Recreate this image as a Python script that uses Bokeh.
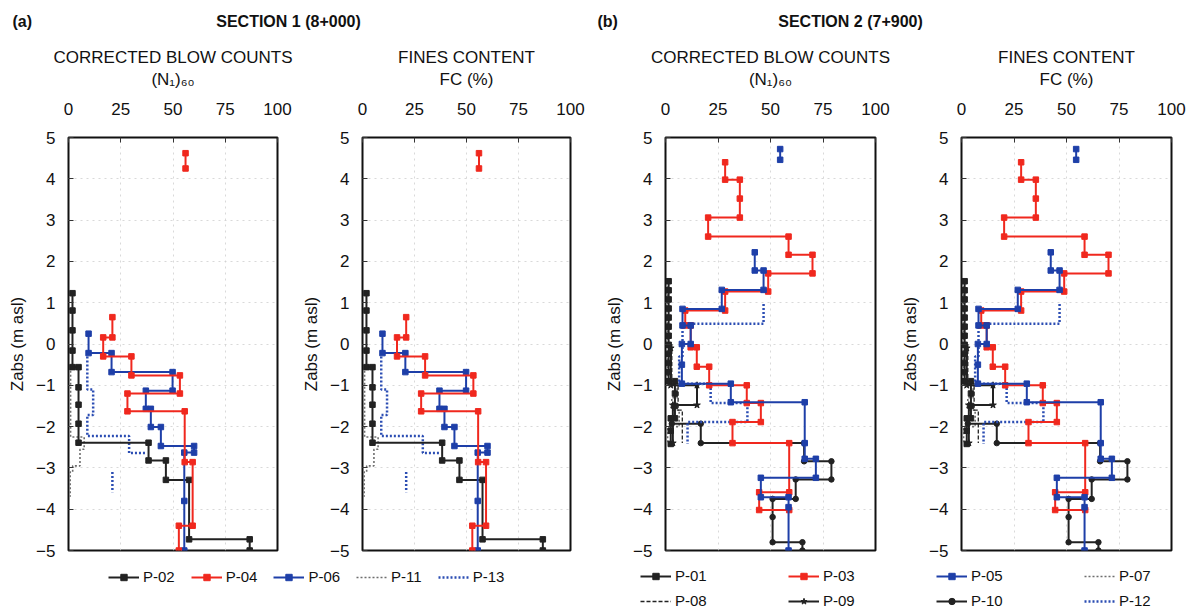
import numpy as np
from bokeh.plotting import figure
from bokeh.models import (Range1d, Label, Title, Legend, LegendItem, FixedTicker,
                          ColumnDataSource)
from bokeh.layouts import column, row
from bokeh.embed import file_html
from bokeh.resources import INLINE

nan = float("nan")
FONT = "Liberation Sans"

# ---------------- DATA ----------------
x_ticks = [0, 25, 50, 75, 100]
z_ticks = [-5, -4, -3, -2, -1, 0, 1, 2, 3, 4, 5]

# Section 1 (8+000)
s1_p02_x = [1.9, 1.9, 1.9, 1.9, 1.9, 4.8, 4.8, 4.8, 4.8, 4.8, 38.3, 38.3, 46.6, 46.6, 57.7, 57.7, 86.7, 86.7]
s1_p02_z = [1.23, 0.81, 0.33, -0.16, -0.56, -0.56, -1.05, -1.47, -1.93, -2.39, -2.39, -2.82, -2.82, -3.29, -3.29, -4.73, -4.73, -5.0]
s1_p04_x = [56, 56, nan, 21, 21, 16.6, 16.6, 30.1, 30.1, 53.3, 53.3, 28.2, 28.2, 55.6, 55.6, 59.4, 59.4, 52.8, 52.8]
s1_p04_z = [4.62, 4.25, nan, 0.65, 0.16, 0.16, -0.3, -0.3, -0.76, -0.76, -1.2, -1.2, -1.63, -1.63, -2.86, -2.86, -4.4, -4.4, -5.0]
s1_p06_x = [9.6, 9.6, 20.6, 20.6, 49.8, 49.8, 37.0, 37.0, 39.4, 39.4, 44.2, 44.2, 60.1, 60.1, 55.4, 55.4, 55.4]
s1_p06_z = [0.25, -0.22, -0.22, -0.68, -0.68, -1.13, -1.13, -1.57, -1.57, -2.01, -2.01, -2.47, -2.47, -2.63, -2.63, -3.8, -5.0]
s1_p11_x = [1.0, 1.0, 7.5, 7.5, 5.5, 5.5, 2.0, 2.0, 0.8, 0.8]
s1_p11_z = [-0.55, -2.25, -2.25, -2.55, -2.55, -2.95, -2.95, -3.1, -3.1, -3.7]
s1_p13_x = [9.0, 9.0, 11.8, 11.8, 9.0, 9.0, 29.0, 29.0, 37.0, nan, 21.0, 21.0]
s1_p13_z = [-0.3, -1.1, -1.1, -1.72, -1.72, -2.23, -2.23, -2.64, -2.64, nan, -3.1, -3.59]

# Section 2 (7+900)
s2_p01_x = [1.5, 1.5, 1.5, 1.5, 1.5, 1.5, 1.5, 1.5, 1.5, 1.5, 1.5, 1.5, 4.5, 4.5, 4.5, 4.5, 2.5, 2.5, 2.5]
s2_p01_z = [1.52, 1.3, 1.08, 0.86, 0.64, 0.42, 0.2, -0.02, -0.24, -0.46, -0.68, -0.9, -0.9, -1.2, -1.5, -1.8, -1.8, -2.1, -2.42]
s2_p03_x = [28.4, 28.4, 35.4, 35.4, 35.4, 20.3, 20.3, 58.6, 58.6, 70.0, 70.0, 48.9, 48.9, 28.4, 28.4, 9.4, 9.4, 12.0, 12.0,
            14.9, 14.9, 20.8, 20.8, 38.7, 38.7, 45.4, 45.4, 31.9, 31.9, 58.9, 58.9, 44.6, 44.6, 58.9]
s2_p03_z = [4.4, 3.98, 3.98, 3.52, 3.06, 3.06, 2.6, 2.6, 2.16, 2.16, 1.71, 1.71, 1.27, 1.27, 0.81, 0.81, 0.45, 0.45, -0.08,
            -0.08, -0.55, -0.55, -1.0, -1.0, -1.43, -1.43, -1.89, -1.89, -2.4, -2.4, -3.59, -3.59, -4.02, -4.02]
s2_p05_x = [54.6, 54.6, nan, 42.5, 42.5, 46.7, 46.7, 26.8, 26.8, 8.1, 8.1, 12.0, 12.0, 7.8, 7.8, 7.8, 31.1, 31.1, 66.3,
            66.3, 66.3, 71.6, 71.6, 45.4, 45.4, 58.6, 58.6, 58.6]
s2_p05_z = [4.72, 4.46, nan, 2.22, 1.78, 1.78, 1.31, 1.31, 0.85, 0.85, 0.45, 0.45, 0.0, 0.0, -0.5, -0.96, -0.96, -1.41, -1.41,
            -2.4, -2.78, -2.78, -3.24, -3.24, -3.71, -3.71, -3.95, -5.0]
s2_p07_x = [0.8, 0.8, 5.5, 5.5, 3.0, 3.0, 6.5, 6.5, 1.0, 1.0]
s2_p07_z = [1.4, -0.9, -0.9, -1.3, -1.3, -1.6, -1.6, -2.0, -2.0, -2.4]
s2_p08_x = [3.0, 3.0, 6.0, 6.0, 8.0, 8.0]
s2_p08_z = [0.0, -0.95, -0.95, -1.6, -1.6, -2.4]
s2_p09_x = [2.5, 2.5, 15.0, 15.0, 3.5, 3.5]
s2_p09_z = [-0.1, -1.0, -1.0, -1.48, -1.48, -2.4]
s2_p10_x = [3.0, 16.8, 16.8, 66.0, 66.0, 79.0, 79.0, 62.0, 62.0, 51.0, 51.0, 51.0, 65.2, 65.2]
s2_p10_z = [-1.93, -1.93, -2.4, -2.4, -2.84, -2.84, -3.28, -3.28, -3.75, -3.75, -4.19, -4.8, -4.8, -5.0]
s2_p12_x = [46.7, 46.7, 8.1, 8.1, 6.5, 6.5, 21.5, 21.5, 39.0, 39.0, 10.5, 10.5]
s2_p12_z = [0.97, 0.49, 0.49, -0.3, -0.3, -0.96, -0.96, -1.43, -1.43, -1.89, -1.89, -2.42]

# ---------------- STYLES ----------------
BLACK = "#222222"
RED = "#f0281e"
BLUE = "#1e3fa8"
GREY = "#6e6e6e"
BLUED = "#2b4db3"

STY = {
    "P-02": dict(color=BLACK, width=2, dash="solid", marker="square", size=5.5, fill=BLACK),
    "P-04": dict(color=RED, width=2, dash="solid", marker="square", size=5.5, fill=RED),
    "P-06": dict(color=BLUE, width=2, dash="solid", marker="square", size=5.5, fill=BLUE),
    "P-11": dict(color=GREY, width=1.6, dash="2 2", marker=None, size=0, fill=None),
    "P-13": dict(color=BLUED, width=2.5, dash="2 2", marker=None, size=0, fill=None),
    "P-01": dict(color=BLACK, width=2, dash="solid", marker="square", size=5.5, fill=BLACK),
    "P-03": dict(color=RED, width=2, dash="solid", marker="square", size=5.5, fill=RED),
    "P-05": dict(color=BLUE, width=2, dash="solid", marker="square", size=5.5, fill=BLUE),
    "P-07": dict(color=GREY, width=1.6, dash="2 2", marker=None, size=0, fill=None),
    "P-08": dict(color=BLACK, width=1.3, dash="4 2", marker=None, size=0, fill=None),
    "P-09": dict(color=BLACK, width=2, dash="solid", marker="star", size=7, fill=BLACK),
    "P-10": dict(color=BLACK, width=2, dash="solid", marker="circle", size=5.5, fill=BLACK),
    "P-12": dict(color=BLUED, width=2.5, dash="2 2", marker=None, size=0, fill=None),
}

sec1 = [("P-11", s1_p11_x, s1_p11_z), ("P-13", s1_p13_x, s1_p13_z), ("P-02", s1_p02_x, s1_p02_z),
        ("P-06", s1_p06_x, s1_p06_z), ("P-04", s1_p04_x, s1_p04_z)]
sec2 = [("P-07", s2_p07_x, s2_p07_z), ("P-08", s2_p08_x, s2_p08_z), ("P-01", s2_p01_x, s2_p01_z),
        ("P-09", s2_p09_x, s2_p09_z), ("P-10", s2_p10_x, s2_p10_z), ("P-12", s2_p12_x, s2_p12_z),
        ("P-03", s2_p03_x, s2_p03_z), ("P-05", s2_p05_x, s2_p05_z)]


def add_series(p, name, src):
    s = STY[name]
    rs = [p.line("x", "z", source=src, line_color=s["color"], line_width=s["width"], line_dash=s["dash"])]
    if s["marker"]:
        rs.append(p.scatter("x", "z", source=src, marker=s["marker"], size=s["size"],
                            fill_color=s["fill"], line_color=s["color"]))
    return rs


def make_panel(t1, t2, fw, bl, br, series):
    p = figure(frame_width=fw, frame_height=413, x_range=Range1d(0, 100), y_range=Range1d(-5, 5),
               x_axis_location="above", title=None, output_backend="svg", toolbar_location=None,
               min_border_left=bl, min_border_right=br, min_border_top=103, min_border_bottom=10,
               background_fill_color="white", border_fill_color="white")
    p.outline_line_color = "#111111"
    p.outline_line_width = 2
    p.xaxis.ticker = FixedTicker(ticks=x_ticks)
    p.yaxis.ticker = FixedTicker(ticks=z_ticks)
    for ax in (p.xaxis[0], p.yaxis[0]):
        ax.axis_line_color = None
        ax.major_tick_in = 5
        ax.major_tick_out = 0
        ax.major_tick_line_color = "#333333"
        ax.minor_tick_line_color = None
        ax.major_label_text_font = FONT
        ax.major_label_text_font_size = "17px"
        ax.major_label_text_color = "#111111"
        ax.axis_label_text_font = FONT
        ax.axis_label_text_font_size = "17px"
        ax.axis_label_text_font_style = "normal"
        ax.axis_label_text_color = "#111111"
    p.xaxis.major_label_standoff = 23
    p.xaxis.axis_label = t2
    p.xaxis.axis_label_standoff = 11
    p.yaxis.major_label_standoff = 13
    p.yaxis.axis_label = "Zabs (m asl)"
    p.yaxis.axis_label_standoff = 6
    p.grid.grid_line_color = "#cfcfcf"
    p.grid.grid_line_dash = "2 4"
    p.grid.grid_line_alpha = 0.8
    p.add_layout(Title(text=t1, align="center", text_font=FONT, text_font_size="17px",
                       text_font_style="normal", text_color="#111111", standoff=0), "above")
    for name, xs, zs in series:
        src = ColumnDataSource(dict(x=np.array(xs, dtype=float), z=np.array(zs, dtype=float)))
        add_series(p, name, src)
    return p


N160 = "(N\u2081)\u2086\u2080"
p1 = make_panel("CORRECTED BLOW COUNTS", N160, 209, 68, 22, sec1)
p2 = make_panel("FINES CONTENT", "FC (%)", 208, 62, 32, sec1)
p3 = make_panel("CORRECTED BLOW COUNTS", N160, 210, 62, 23, sec2)
p4 = make_panel("FINES CONTENT", "FC (%)", 210, 62, 20, sec2)

TOTAL_W = 68 + 209 + 22 + 62 + 208 + 32 + 62 + 210 + 23 + 62 + 210 + 20

# Header
HDR_H = 34
hdr = figure(width=TOTAL_W, height=HDR_H, x_range=Range1d(0, TOTAL_W), y_range=Range1d(0, HDR_H),
             output_backend="svg", toolbar_location=None, title=None, min_border=0)
hdr.axis.visible = False
hdr.grid.visible = False
hdr.outline_line_color = None
for txt, xx, al in [("(a)", 12, "left"), ("SECTION 1 (8+000)", 288, "center"),
                    ("(b)", 597, "left"), ("SECTION 2 (7+900)", 850, "center")]:
    hdr.add_layout(Label(x=xx, y=HDR_H - 21, text=txt, text_align=al, text_baseline="middle",
                         text_font=FONT, text_font_size="16px", text_font_style="bold",
                         text_color="#111111"))

# Legend strip
LEG_H = 50
leg = figure(width=TOTAL_W, height=LEG_H, x_range=Range1d(0, 1), y_range=Range1d(0, 1),
             output_backend="svg", toolbar_location=None, title=None, min_border=0)
leg.axis.visible = False
leg.grid.visible = False
leg.outline_line_color = None


def dummy(name):
    src = ColumnDataSource(dict(x=[-10.0], z=[-10.0]))
    return LegendItem(label=name, renderers=add_series(leg, name, src))


def style_legend(L):
    L.background_fill_alpha = 0
    L.border_line_color = None
    L.padding = 0
    L.margin = 0
    L.label_text_font = FONT
    L.label_text_font_size = "15px"
    L.label_text_color = "#111111"
    L.glyph_width = 31
    L.glyph_height = 16
    L.label_height = 16
    L.label_standoff = 4


legA = Legend(items=[dummy(n) for n in ["P-02", "P-04", "P-06", "P-11", "P-13"]],
              location=(108, 25), orientation="horizontal", spacing=16)
style_legend(legA)
legB = Legend(items=[dummy(n) for n in ["P-01", "P-03", "P-05", "P-07", "P-08", "P-09", "P-10", "P-12"]],
              location=(640, 1), orientation="horizontal", ncols=4, spacing=8)
style_legend(legB)
legB.label_width = 105
leg.add_layout(legA, "center")
leg.add_layout(legB, "center")

layout = column(hdr, row(p1, p2, p3, p4), leg, spacing=0)
open("out.html", "w").write(file_html(layout, INLINE))
